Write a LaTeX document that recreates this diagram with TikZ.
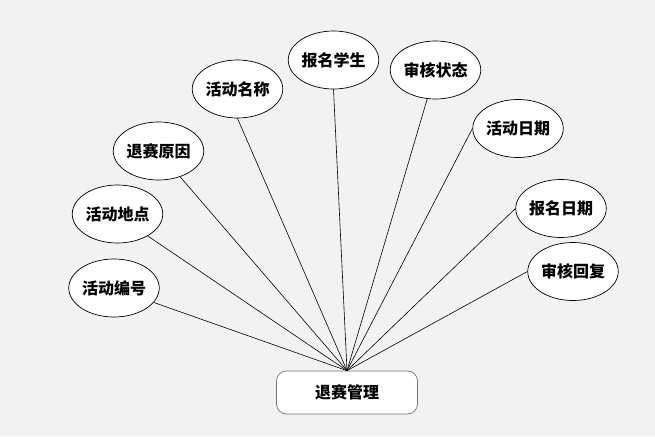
\documentclass[tikz,border=0pt]{standalone}
\usepackage{fontspec}
\setmainfont{Noto Sans CJK SC}
\usetikzlibrary{shapes.geometric}
\begin{document}
\begin{tikzpicture}[x=1pt,y=-1pt,
  attr/.style={ellipse,draw=black,line width=0.7pt,fill=white,minimum width=89pt,minimum height=58pt,inner sep=0pt,font=\fontsize{16}{16}\selectfont\bfseries},
  entity/.style={rectangle,rounded corners=10pt,draw=black!55,line width=0.7pt,fill=white,minimum width=141pt,minimum height=43pt,inner sep=0pt,font=\fontsize{16}{16}\selectfont\bfseries},
  link/.style={draw=black,line width=0.6pt}]
\fill[fill=black!5] (0,0) rectangle (655,436);
\useasboundingbox (0,0) rectangle (655,436);
\node[entity] (m) at (347,392.5) {退赛管理};
\coordinate (hub) at (347,371);
\node[attr] (a1) at (114,288) {活动编号};
\node[attr] (a2) at (117.5,214) {活动地点};
\node[attr] (a3) at (158.5,151) {退赛原因};
\node[attr] (a4) at (237.5,89) {活动名称};
\node[attr] (a5) at (333.5,60) {报名学生};
\node[attr] (a6) at (435.5,70) {审核状态};
\node[attr] (a7) at (518,128.5) {活动日期};
\node[attr] (a8) at (561,208.5) {报名日期};
\node[attr] (a9) at (573,271.5) {审核回复};
\draw[link] (a1.340) -- (m.north);
\draw[link] (a2.324) -- (m.north);
\draw[link] (a3.310) -- (m.north);
\draw[link] (a4.south) -- (m.north);
\draw[link] (a5.south) -- (m.north);
\draw[link] (a6.254) -- (m.north);
\draw[link] (a7.west) -- (m.north);
\draw[link] (a8.west) -- (m.north);
\draw[link] (a9.west) -- (m.north);
\end{tikzpicture}
\end{document}
